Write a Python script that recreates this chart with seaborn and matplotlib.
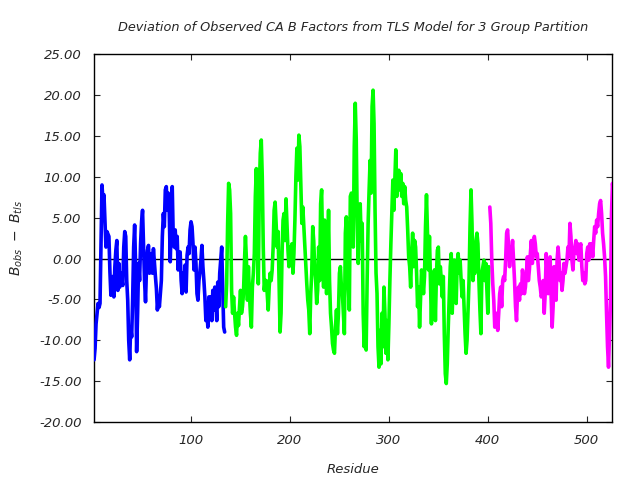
import numpy as np
import pandas as pd
import matplotlib
matplotlib.use("Agg")
import matplotlib.pyplot as plt
import seaborn as sns

# ---- data ----
blue_start = 2
blue_vals = [
    -12.4, -11.0, -8.0, -6.7, -5.5, -6.0, -5.5, 1.8, 9.0, 7.0, 7.8, 4.7, 1.4, 3.3, 3.0, 2.7,
    -1.6, -4.5, -3.0, -2.2, -4.7, -1.0, 1.0, 2.2, -3.9, -0.6, -3.5, -1.8, -2.5, -3.3, 1.4, 3.3,
    2.7, -2.7, -5.1, -10.0, -12.4, -8.4, -9.6, -4.9, 1.4, 4.1, -1.0, -11.4, -6.7, -0.6, -2.7, 1.8,
    4.5, 5.9, 1.4, -2.7, -5.3, -1.0, 1.0, 1.6, -1.8, -0.6, 0.6, -1.8, 1.2, -0.6, -2.2, -3.7,
    -6.3, -4.7, -5.9, -4.3, -2.7, 2.7, 5.5, 3.9, 8.4, 8.8, 5.9, 8.0, 5.5, -0.4, 4.7, 8.8,
    2.7, 1.4, 3.5, 1.2, 2.7, -1.4, 0.6,
    0.8, -2.7, -4.3, -1.8, -3.5, -0.8, -4.1, 0.4, 1.4, 0.6, 3.5, 4.5, 3.9, 1.8, -1.4, 1.4,
    -0.6, -4.3, -5.1, -2.7, -1.6, -0.2, 1.6, -1.0, -2.7, -4.7, -7.6, -6.3, -8.4, -4.7, -6.7, -4.7,
    -7.6, -3.9, -6.3, -3.5, -5.1, -7.6, -2.9, -5.9, -1.8, -0.2, 1.4, -3.5, -8.4, -9.0,
]

green_start = 135
green_vals = [
    -5.9, -3.1, 4.3, 9.2, 8.4, 5.5, -3.9, -6.7, -4.7, -6.7, -8.4, -9.4, -6.7, -8.2, -5.9, -3.9,
    -6.7, -5.9, -4.3, -0.4, 2.7, -0.2, -5.1, -1.0, -4.3, -6.7, -8.4, -3.5, -1.8, 0.6, 7.6, 11.0,
    4.7, -3.1, 8.0, 12.9, 14.5, 10.0, 1.4, -3.9, -2.7,
    -2.7, -4.3, -6.3, -3.5, -1.8, -2.7, -1.4, 1.4, 5.9, 6.9, 4.3, 1.4, 3.3, -2.7, -9.0, -6.7,
    0.6, 4.7, 5.5, 2.2, 7.3, 4.3, 1.0, -1.0, 1.4, -0.2, 1.8, -1.8, 0.6, 4.7, 10.0, 13.5,
    9.6, 15.1, 13.7, 8.8, 4.3, 6.3, 3.9, 1.4, -1.0, -3.1, -5.1, -6.3, -9.2, -4.3, -1.8, 3.9,
    2.2, -1.0, -2.7, -5.5, -3.9, 1.4, -2.7, 6.7, 8.4, 1.4, -3.5, 4.7, 3.5, -4.3, -1.0, 5.9,
    -2.7, -6.7, -8.4, -10.4, -11.2, -11.6, -8.4, -6.3, -9.2, -6.7, -1.8, -1.0, -3.5, -4.3, -6.7, -9.2,
    3.1, 5.1, -0.2, -3.5, -6.3, 7.6, 8.0,
    8.0, 1.4, 13.7, 19.0, 14.5, 4.7, -0.6, 5.1, 6.7, 2.2, 4.3, -6.7, -10.8, -6.7, -11.2, -2.7,
    4.3, 8.4, 12.0, 8.0, 18.6, 20.6, 16.5, 5.9, -1.8, -4.3, -10.8, -13.3, -8.8, -12.9, -6.7, -10.8,
    -3.5, -6.7, -11.6, -7.6, -12.4, -8.0, -2.7, 1.8, 5.5, 9.6, 5.9, 9.6, 13.3, 7.6, 9.6, 10.8,
    8.4, 10.4, 7.6, 9.2, 6.7, 8.8, 7.1, 6.3, 3.5, 0.2, -1.0, -3.5, 0.6, 3.1, -1.0, 2.2,
    1.4, -1.8, -5.9, -3.5, -8.4, -4.7, -1.4, -2.7, -4.3, -2.2, 3.9, 7.8, 3.1, -1.4, 2.7, -2.7,
    -8.0, -1.8, -4.3, -1.4, -7.6, -2.2, 1.0,
    1.4, -3.1, -1.0, -2.7, -4.7, -2.2, -9.2, -14.1, -15.3, -12.9, -8.4, -4.7, -1.0, 0.6, -6.7, -2.7,
    -0.2, -3.5, -5.5, -0.6, 0.6, -1.8, -0.2, -2.7, -4.7, -2.7, -5.9, -9.2, -11.6, -10.0, -6.3, -2.7,
    3.9, 8.4, 4.3, -2.7, -1.0, -1.8, 2.2, 3.1, 1.8, -2.7, -6.3, -9.2, -1.8, -1.0, -0.2, -2.7,
    -0.6, -3.5, -6.7, -1.0,
]

magenta_start = 402
magenta_vals = [
    6.3, 4.3, -0.2, -3.1, -5.1, -8.4, -7.6, -6.7, -8.8, -6.7, -4.3, -3.5, -5.9, -2.7, -2.2, -2.7,
    -0.2, 3.1, 3.5, 1.4, -1.0, 1.4, 0.6, 2.2, -0.2, -2.7, -5.9, -7.6, -4.3, -3.5, -5.1, -3.1,
    -4.3, -1.4, -2.7, -4.3,
    -3.5, -1.8, 0.2, -2.7, -1.4, 0.6, 2.2, -0.6, 1.4, 2.7, 1.8, 0.2, 0.6, -1.0, -2.7, -3.5,
    -4.7, -4.3, -2.7, -6.7, -4.3, 0.6, -1.8, -4.3, -1.4, 0.2, -4.7, -8.4, -5.9, -1.0, -2.7, -5.1,
    -0.2, 1.4, -0.2, -2.7, -1.8, -3.9, -2.7, -0.6, -1.8, -1.0, -0.2, 1.4, 0.2, 4.3, 2.7, -0.2,
    -1.4, 0.6, 1.4, 2.2, 0.6, 1.8, -0.2, 1.4, 1.8, -1.0, -2.7, -1.8, -3.1, -2.7, 0.6, 1.4,
    -0.2, 1.8, 0.6, 1.8, 0.2, 2.2, 3.9, 3.1, 4.7, 3.9, 5.5, 6.7, 7.1, 5.5, 3.1, 1.8,
    0.2, -2.2, -6.7, -10.8, -13.3, -9.2, -5.1, 5.5, 9.2, 8.0,
]

groups = [
    (blue_start, blue_vals, "#0000ff"),
    (green_start, green_vals, "#00ff00"),
    (magenta_start, magenta_vals, "#ff00ff"),
]

title = "Deviation of Observed CA B Factors from TLS Model for 3 Group Partition"
x_ticks = [100, 200, 300, 400, 500]
y_ticks = [-20, -15, -10, -5, 0, 5, 10, 15, 20, 25]

# ---- plot ----
sns.set_style("white")
plt.rcParams["font.family"] = ["DejaVu Sans"]
plt.rcParams["mathtext.default"] = "it"

fig = plt.figure(figsize=(6.4, 4.8), dpi=100)
ax = fig.add_axes([0.147, 0.121, 0.810, 0.766])

for start, vals, col in groups:
    df = pd.DataFrame({"Residue": np.arange(start, start + len(vals)), "dev": vals})
    sns.lineplot(data=df, x="Residue", y="dev", color=col, linewidth=2.6,
                 estimator=None, sort=False, ax=ax, zorder=3)

ax.axhline(0, color="black", linewidth=1.0, zorder=2)

ax.set_xlim(2, 526)
ax.set_ylim(-20, 25)
ax.set_xticks(x_ticks)
ax.set_yticks(y_ticks)
ax.set_xticklabels([str(t) for t in x_ticks], fontstyle="italic", fontsize=9.5)
ax.set_yticklabels([f"{t:.2f}" for t in y_ticks], fontstyle="italic", fontsize=9.5)
ax.tick_params(direction="in", length=4, width=0.8, top=True, right=True,
               bottom=True, left=True, pad=9)
for s in ax.spines.values():
    s.set_color("black")
    s.set_linewidth(1.0)

ax.set_xlabel("Residue", fontstyle="italic", fontsize=9.5, labelpad=11)
ax.set_ylabel(r"$B_{obs}\ -\ B_{tls}$", fontsize=10, labelpad=10)
ax.set_title(title, fontstyle="italic", fontsize=9.3, pad=17)

fig.savefig("out.png", dpi=100)
